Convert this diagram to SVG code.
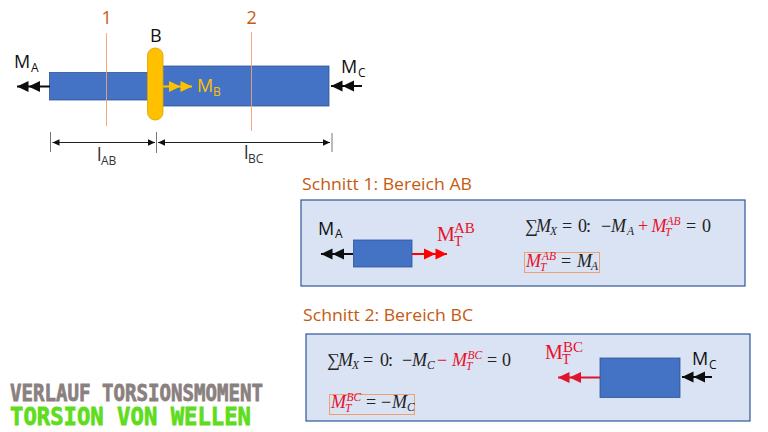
<svg xmlns="http://www.w3.org/2000/svg" width="768" height="432" viewBox="0 0 768 432">
<defs>
<style>
text{font-family:"Open Sans","Liberation Sans",sans-serif}
.lab{font-size:18px;fill:#111}
.sub{font-size:12px}
.num{font-size:18px;fill:#c55a11}
.head{font-size:17px;fill:#c55a11}
.rod{fill:#4472c4;stroke:#2f5597;stroke-width:.8}
.panel{fill:#dae3f3;stroke:#2f5597;stroke-width:1.2}
.cut{stroke:#f0a070;stroke-width:.9;fill:none}
.dim{stroke:#222;stroke-width:1;fill:none}
.tick{stroke:#777;stroke-width:1;fill:none}
.m{font-family:"Liberation Serif","DejaVu Serif",serif;font-size:18px;fill:#222}
.mi{font-style:italic}
.r{fill:#e8102a}
.s{font-size:11.500px}
.T{font-family:"Liberation Serif",serif;fill:#e8102a;font-size:20px}
.eqbox{fill:none;stroke:#f0a070;stroke-width:1}
.title{font-family:"DejaVu Sans Mono",monospace;font-weight:bold;stroke-width:.8}
</style>
<marker id="dk" markerUnits="userSpaceOnUse" markerWidth="26" markerHeight="14" refX="23" refY="7" orient="auto"><path d="M0 1.500L11.500 7L0 12.500ZM11.500 1.500L23 7L11.500 12.500Z" fill="#0d0d0d"/></marker>
<marker id="dr" markerUnits="userSpaceOnUse" markerWidth="26" markerHeight="14" refX="23" refY="7" orient="auto"><path d="M0 1.500L11.500 7L0 12.500ZM11.500 1.500L23 7L11.500 12.500Z" fill="#ff0000"/></marker>
<marker id="dc" markerUnits="userSpaceOnUse" markerWidth="26" markerHeight="14" refX="23" refY="7" orient="auto"><path d="M0 1.500L11.500 7L0 12.500ZM11.500 1.500L23 7L11.500 12.500Z" fill="#e0142c"/></marker>
<marker id="do" markerUnits="userSpaceOnUse" markerWidth="26" markerHeight="14" refX="23" refY="7" orient="auto"><path d="M0 1.500L11.500 7L0 12.500ZM11.500 1.500L23 7L11.500 12.500Z" fill="#ffc000"/></marker>
<marker id="sa" markerUnits="userSpaceOnUse" markerWidth="8" markerHeight="8" refX="7" refY="4" orient="auto-start-reverse"><path d="M0 .8L7 4L0 7.200Z" fill="#111"/></marker>
</defs>

<g id="shaft-ab"><rect class="rod" x="49.500" y="72.500" width="99" height="27.500"/></g>
<g id="shaft-bc"><rect class="rod" x="162" y="66" width="167" height="40"/></g>
<g id="disc-b"><rect x="147.500" y="48" width="15.500" height="72" rx="7.500" fill="#ffc000" stroke="#d9a300" stroke-width=".8"/><text class="lab" x="150" y="42">B</text></g>

<g id="label-1"><text class="num" x="101.500" y="24">1</text></g>
<g id="label-2"><text class="num" x="246.500" y="24">2</text></g>
<g id="label-ma"><text class="lab" x="14" y="68">M<tspan class="sub" x="31" y="72">A</tspan></text></g>
<g id="label-mc"><text class="lab" x="341" y="73">M<tspan class="sub" x="358" y="77">C</tspan></text></g>
<g id="label-mb"><text class="lab" x="197" y="92" style="fill:#ffc000">M<tspan class="sub" x="213" y="96">B</tspan></text></g>
<g id="label-lab"><text class="lab" x="97" y="161" style="fill:#333">l<tspan class="sub" x="101" y="165">AB</tspan></text></g>
<g id="label-lbc"><text class="lab" x="244" y="159" style="fill:#333">l<tspan class="sub" x="248" y="163">BC</tspan></text></g>

<g id="title-1"><text class="head" x="302" y="190" textLength="170" lengthAdjust="spacingAndGlyphs">Schnitt 1: Bereich AB</text></g>
<g id="panel-1">
<rect class="panel" x="301" y="200" width="444" height="86"/>
<rect class="rod" x="353.500" y="240" width="58.500" height="27"/>
<text class="lab" x="318" y="234.500">M<tspan class="sub" x="335" y="238">A</tspan></text>
<text class="T" x="437" y="241">M<tspan font-size="14" x="454" y="246">T</tspan><tspan font-size="15" x="454" y="233">AB</tspan></text>
<text class="m" y="232"><tspan x="525">∑</tspan><tspan class="mi" x="536">M</tspan><tspan class="mi s" x="550" y="235">X</tspan><tspan x="562" y="232">=</tspan><tspan x="578">0</tspan><tspan x="586">:</tspan><tspan x="601">−</tspan><tspan class="mi" x="611">M</tspan><tspan class="mi s" x="627" y="235">A</tspan><tspan class="r" x="638" y="232">+</tspan><tspan class="mi r" x="651.500">M</tspan><tspan class="mi r s" x="665" y="236">T</tspan><tspan class="mi r s" x="666.500" y="225">AB</tspan><tspan x="686" y="232">=</tspan><tspan x="702">0</tspan></text>
<rect class="eqbox" x="524.500" y="252.500" width="75" height="20"/>
<text class="m" y="267"><tspan class="mi r" x="526">M</tspan><tspan class="mi r s" x="540" y="271">T</tspan><tspan class="mi r s" x="542" y="260">AB</tspan><tspan x="561" y="267">=</tspan><tspan class="mi" x="577">M</tspan><tspan class="mi s" x="591" y="270">A</tspan></text>
</g>

<g id="title-2"><text class="head" x="303" y="321" textLength="170" lengthAdjust="spacingAndGlyphs">Schnitt 2: Bereich BC</text></g>
<g id="panel-2">
<rect class="panel" x="306" y="334" width="444" height="87"/>
<rect class="rod" x="600" y="358" width="80" height="39.500"/>
<text class="lab" x="692" y="365">M<tspan class="sub" x="709" y="369">C</tspan></text>
<text class="T" x="545" y="359">M<tspan font-size="14" x="562" y="364">T</tspan><tspan font-size="15" x="563" y="352">BC</tspan></text>
<text class="m" y="366"><tspan x="327">∑</tspan><tspan class="mi" x="338">M</tspan><tspan class="mi s" x="352" y="369">X</tspan><tspan x="363" y="366">=</tspan><tspan x="380">0</tspan><tspan x="388">:</tspan><tspan x="402">−</tspan><tspan class="mi" x="412">M</tspan><tspan class="mi s" x="427" y="369">C</tspan><tspan class="r" x="437" y="366">−</tspan><tspan class="mi r" x="452">M</tspan><tspan class="mi r s" x="466" y="370">T</tspan><tspan class="mi r s" x="467.500" y="359">BC</tspan><tspan x="487" y="366">=</tspan><tspan x="502">0</tspan></text>
<rect class="eqbox" x="329.500" y="394.500" width="85" height="20"/>
<text class="m" y="408"><tspan class="mi r" x="331">M</tspan><tspan class="mi r s" x="345" y="412">T</tspan><tspan class="mi r s" x="346.500" y="401">BC</tspan><tspan x="366" y="408">=</tspan><tspan x="381">−</tspan><tspan class="mi" x="392">M</tspan><tspan class="mi s" x="407" y="411">C</tspan></text>
</g>

<g id="connectors">
<path class="cut" d="M106.500 33V126M251.500 32V131"/>
<path class="tick" d="M50.500 132V152M156.500 132V153M332 133V152"/>
<path class="dim" d="M52.500 142.500H155" marker-start="url(#sa)" marker-end="url(#sa)"/>
<path class="dim" d="M158 142.500H330" marker-start="url(#sa)" marker-end="url(#sa)"/>
<path d="M50 86.500H17" stroke="#0d0d0d" stroke-width="2" marker-end="url(#dk)"/>
<path d="M362 86H331" stroke="#0d0d0d" stroke-width="2" marker-end="url(#dk)"/>
<path d="M163 86.500H192" stroke="#ffc000" stroke-width="2" marker-end="url(#do)"/>
<path d="M353 254H321" stroke="#0d0d0d" stroke-width="2" marker-end="url(#dk)"/>
<path d="M412 254H447" stroke="#ff0000" stroke-width="2" marker-end="url(#dr)"/>
<path d="M600 377.500H558" stroke="#e0142c" stroke-width="2" marker-end="url(#dc)"/>
<path d="M712 377H682" stroke="#0d0d0d" stroke-width="2" marker-end="url(#dk)"/>
</g>

<g id="branding">
<text class="title" x="10" y="401" fill="#8a8080" stroke="#8a8080" font-size="23.500" textLength="253" lengthAdjust="spacingAndGlyphs">VERLAUF TORSIONSMOMENT</text>
<text class="title" x="10" y="425" fill="#5fdc1e" stroke="#5fdc1e" font-size="25" textLength="241" lengthAdjust="spacingAndGlyphs">TORSION VON WELLEN</text>
</g>
</svg>
